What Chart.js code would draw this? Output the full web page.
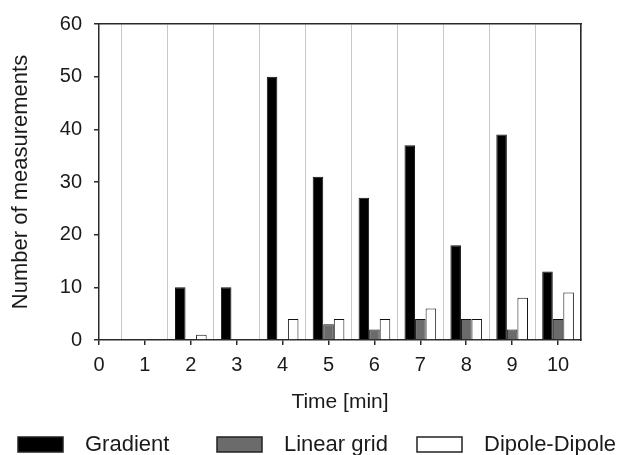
<!DOCTYPE html>
<html>
<head>
<meta charset="utf-8">
<script src="https://cdn.jsdelivr.net/npm/chart.js@4/dist/chart.umd.min.js"></script>
<style>
  html, body { margin: 0; padding: 0; background: #fff; }
  #wrap { width: 620px; height: 455px; position: relative; }
</style>
</head>
<body>
<div id="wrap"><canvas id="measure-chart"></canvas></div>
<script>
const minutes = [0, 1, 2, 3, 4, 5, 6, 7, 8, 9, 10];
const gradient = [0, 0, 10, 10, 50, 31, 27, 37, 18, 39, 13];
const linearGrid = [0, 0, 0, 0, 0, 3, 2, 4, 4, 2, 4];
const dipoleDipole = [0, 0, 1, 0, 4, 4, 4, 6, 4, 8, 9];
const yTicks = [0, 10, 20, 30, 40, 50, 60];

const FONT = '"Liberation Sans", Arial, sans-serif';
const INK = '#1a1a1a';
const AXIS = '#2a2a2a';

// legend drawn as one row under the axis title
const legendRow = {
  id: 'legendRow',
  afterDraw(chart) {
    const ctx = chart.ctx;
    const boxX = [18, 217, 417];
    ctx.save();
    ctx.font = '22px ' + FONT;
    ctx.textBaseline = 'middle';
    ctx.textAlign = 'left';
    chart.data.datasets.forEach((ds, i) => {
      const x = boxX[i];
      ctx.fillStyle = ds.backgroundColor;
      ctx.fillRect(x, 437, 45, 15);
      ctx.lineWidth = 1.5;
      ctx.strokeStyle = '#222';
      ctx.strokeRect(x, 437, 45, 15);
      ctx.fillStyle = INK;
      ctx.fillText(ds.label, x + 67, 445);
    });
    ctx.restore();
  }
};

const ctx = document.getElementById('measure-chart').getContext('2d');
const myChart = new Chart(ctx, {
  type: 'bar',
  data: {
    labels: minutes,
    datasets: [
      { label: 'Gradient', data: gradient, backgroundColor: '#000000' },
      { label: 'Linear grid', data: linearGrid, backgroundColor: '#6b6b6b' },
      { label: 'Dipole-Dipole', data: dipoleDipole, backgroundColor: '#ffffff' }
    ].map(ds => Object.assign(ds, {
      xAxisID: 'x',
      yAxisID: 'y',
      borderColor: '#111',
      borderWidth: 1,
      categoryPercentage: 0.69,
      barPercentage: 1.0
    }))
  },
  options: {
    responsive: true,
    maintainAspectRatio: false,
    animation: false,
    layout: { padding: { top: 20, left: 0, right: 39, bottom: 37 } },
    plugins: {
      legend: { display: false },
      tooltip: { enabled: false }
    },
    scales: {
      x: {
        type: 'linear',
        position: 'bottom',
        min: 0,
        max: 10.5,
        offset: false,
        ticks: {
          stepSize: 1,
          includeBounds: false,
          autoSkip: false,
          maxRotation: 0,
          padding: 8,
          color: INK,
          font: { family: FONT, size: 20 }
        },
        grid: {
          offset: false,
          drawOnChartArea: false,
          drawTicks: true,
          tickLength: 5,
          color: AXIS,
          lineWidth: 1.5
        },
        border: { color: AXIS, width: 1.5 },
        title: {
          display: true,
          text: 'Time [min]',
          color: INK,
          font: { family: FONT, size: 21 },
          padding: { top: 0, bottom: 3 }
        },
        afterFit(scale) { scale.height = 78; }
      },
      // vertical grid between the minutes, plus the top frame line
      x2: {
        type: 'linear',
        position: 'top',
        min: 0,
        max: 10.5,
        offset: false,
        ticks: { display: false, stepSize: 1, includeBounds: false },
        grid: {
          offset: true,
          drawTicks: false,
          color: '#c8c8c8',
          lineWidth: 1
        },
        border: { color: AXIS, width: 1.5 },
        afterFit(scale) { scale.height = 0; }
      },
      y: {
        position: 'left',
        min: 0,
        max: 60,
        afterBuildTicks(scale) { scale.ticks = yTicks.map(v => ({ value: v })); },
        ticks: {
          padding: 12,
          color: INK,
          font: { family: FONT, size: 20 }
        },
        grid: {
          drawOnChartArea: false,
          drawTicks: true,
          tickLength: 5,
          color: AXIS,
          lineWidth: 1.5
        },
        border: { color: AXIS, width: 1.5 },
        title: {
          display: true,
          text: 'Number of measurements',
          color: INK,
          font: { family: FONT, size: 22 },
          padding: { top: 8, bottom: 0 }
        },
        afterFit(scale) { scale.width = 99; }
      },
      // right frame line
      y2: {
        position: 'right',
        min: 0,
        max: 60,
        ticks: { display: false },
        grid: { drawOnChartArea: false, drawTicks: false },
        border: { color: AXIS, width: 1.5 },
        afterFit(scale) { scale.width = 0; }
      }
    }
  },
  plugins: [legendRow]
});
</script>
</body>
</html>
